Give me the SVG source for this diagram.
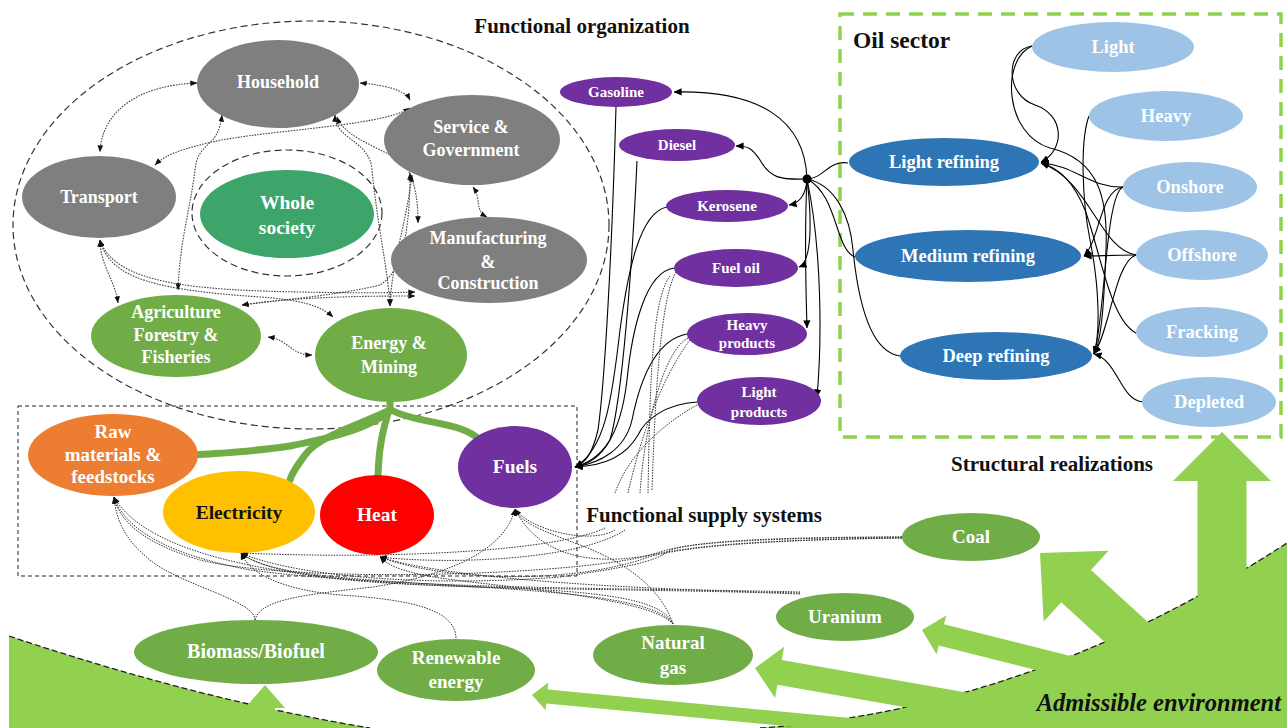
<svg xmlns="http://www.w3.org/2000/svg" width="1287" height="728" viewBox="0 0 1287 728">
<defs>
<marker id="ah" viewBox="0 0 10 10" refX="9.5" refY="5" markerWidth="8" markerHeight="8" markerUnits="userSpaceOnUse" orient="auto-start-reverse"><path d="M0,0.5 L10,5 L0,9.5 z" fill="#000"/></marker>
<marker id="ahs" viewBox="0 0 10 10" refX="9.5" refY="5" markerWidth="7" markerHeight="7" markerUnits="userSpaceOnUse" orient="auto-start-reverse"><path d="M0,1 L10,5 L0,9 z" fill="#111"/></marker>
</defs>
<style>
.t{font-family:"Liberation Serif","Times New Roman",serif;font-weight:bold;text-anchor:middle;fill:#fff}
.tb{font-family:"Liberation Serif","Times New Roman",serif;font-weight:bold;fill:#111}
.gray{fill:#7f7f7f}
.grn{fill:#70ad47}
.pur{fill:#7030a0}
.blu{fill:#2e75b6}
.lbl{fill:#9dc3e6}
.env{fill:#92d050}
.sol{fill:none;stroke:#000;stroke-width:1.1}
.dot{fill:none;stroke:#333;stroke-width:1;stroke-dasharray:1.5 1.2}
.org{fill:none;stroke:#444;stroke-width:1.1;stroke-dasharray:1.6 1.2}
.thick{fill:none;stroke:#70ad47;stroke-width:7;stroke-linecap:round}
</style>
<rect width="1287" height="728" fill="#fff"/>

<!-- Admissible environment -->
<g id="environment">
<path class="env" d="M9,636 Q200,700 370,728 L9,728 Z"/>
<path class="env" d="M760,728 Q1030,710 1287,543 L1287,728 Z"/>
<path d="M9,636 Q200,700 370,728" fill="none" stroke="#222" stroke-width="1.3" stroke-dasharray="6 3"/>
<path d="M760,728 Q1030,710 1287,543" fill="none" stroke="#222" stroke-width="1.3" stroke-dasharray="6 3"/>
<polygon class="env" transform="translate(1222,432) rotate(-90)" points="0,0 -49,-49 -49,-24.5 -320,-24.5 -320,24.5 -49,24.5 -49,49"/>
<polygon class="env" transform="translate(1040,553) rotate(-137.5)" points="0,0 -49,-48 -49,-22 -230,-22 -230,22 -49,22 -49,48"/>
<polygon class="env" transform="translate(922,630) rotate(-165.9)" points="0,0 -20,-20 -20,-11 -220,-11 -220,11 -20,11 -20,20"/>
<polygon class="env" transform="translate(755,668) rotate(-170)" points="0,0 -25,-26 -25,-12.5 -240,-12.5 -240,12.5 -25,12.5 -25,26"/>
<polygon class="env" transform="translate(532,695) rotate(-174.6)" points="0,0 -15,-14 -15,-7 -340,-7 -340,7 -15,7 -15,14"/>
<polygon class="env" transform="translate(265,685) rotate(-90)" points="0,0 -23,-20 -23,-10 -60,-10 -60,10 -23,10 -23,20"/>
<text x="1281" y="711" font-family="Liberation Serif, Times New Roman, serif" font-size="24.5" font-style="italic" font-weight="bold" text-anchor="end" fill="#111">Admissible environment</text>
</g>

<!-- boundaries -->
<g id="boundaries">
<ellipse cx="311" cy="225" rx="298" ry="204" fill="none" stroke="#333" stroke-width="1.2" stroke-dasharray="7 4"/>
<rect x="18" y="406" width="559" height="170" fill="none" stroke="#222" stroke-width="1" stroke-dasharray="4 3"/>
<rect x="840" y="14" width="441" height="423" fill="none" stroke="#92d050" stroke-width="3.5" stroke-dasharray="14 9"/>
<ellipse cx="287" cy="213" rx="95" ry="63" fill="none" stroke="#333" stroke-width="1.2" stroke-dasharray="7 4"/>
</g>

<g id="connectors">
<!-- organization links -->
<g marker-start="url(#ahs)" marker-end="url(#ahs)">
<path class="org" d="M197,83 C140,85 102,110 100,152"/>
<path class="org" d="M360,83 C385,85 405,90 410,100"/>
<path class="org" d="M410,108 C380,128 250,130 200,145 C180,150 165,155 155,165"/>
<path class="org" d="M222,115 C218,150 198,140 195,170 C190,210 180,240 178,290"/>
<path class="org" d="M335,115 C335,140 370,140 372,170 C378,230 388,270 390,306"/>
<path class="org" d="M337,117 C345,140 390,150 405,165 C415,180 418,200 418,223"/>
<path class="org" d="M410,173 C410,220 405,270 380,285 C340,295 280,300 242,305"/>
<path class="org" d="M412,175 C405,230 392,260 390,306"/>
<path class="org" d="M100,240 C100,265 115,280 118,303"/>
<path class="org" d="M100,240 C110,280 160,290 260,297 C300,300 320,305 333,317"/>
<path class="org" d="M100,240 C115,285 200,290 300,292 C350,293 390,293 415,292"/>
<path class="org" d="M242,305 C300,296 380,296 415,296"/>
<path class="org" d="M268,337 C290,340 290,355 312,355"/>
<path class="org" d="M473,187 C482,200 474,210 487,217"/>
</g>
<!-- energy & mining to supply systems -->
<path class="thick" d="M390,402 L390,410 C370,430 320,440 290,446 C250,452 220,453 196,455"/>
<path class="thick" d="M390,410 C360,425 320,435 305,455 C298,465 292,472 290,480"/>
<path class="thick" d="M389,410 C383,430 379,445 378,475"/>
<path class="thick" d="M391,410 C410,420 440,422 458,428 C470,432 476,436 480,440"/>
<!-- refining to products -->
<path class="sol" d="M848,163 C828,160 825,178 807,179"/>
<path class="sol" d="M855,257 C835,250 838,195 807,179"/>
<path class="sol" d="M900,356 C870,352 858,300 853,250 C850,215 835,185 807,179"/>
<g marker-end="url(#ah)">
<path class="sol" d="M807,179 C805,120 760,90 674,92"/>
<path class="sol" d="M807,179 C780,180 770,178 760,160 C752,148 748,146 736,146"/>
<path class="sol" d="M807,179 C806,195 800,203 789,205"/>
<path class="sol" d="M807,179 C812,220 812,262 799,267"/>
<path class="sol" d="M807,179 C804,240 806,290 807,328"/>
<path class="sol" d="M807,179 C822,250 822,340 817,397"/>
<!-- crude to refining -->
<path class="sol" d="M1032,46 C1005,50 1005,95 1035,105 C1065,115 1065,150 1041,162"/>
<path class="sol" d="M1032,46 C1000,60 1005,135 1050,148 C1100,160 1108,200 1106,250 C1104,300 1102,340 1094,354"/>
<path class="sol" d="M1089,116 C1080,140 1082,200 1090,240 C1100,290 1100,335 1094,354"/>
<path class="sol" d="M1123,187 C1090,188 1075,165 1041,163"/>
<path class="sol" d="M1123,187 C1100,190 1100,240 1084,256"/>
<path class="sol" d="M1123,187 C1105,195 1105,320 1094,354"/>
<path class="sol" d="M1136,255 C1110,255 1100,256 1084,256"/>
<path class="sol" d="M1136,255 C1100,250 1090,180 1041,163"/>
<path class="sol" d="M1136,255 C1115,262 1110,330 1094,354"/>
<path class="sol" d="M1136,333 C1110,320 1100,250 1085,210 C1075,185 1060,168 1041,163"/>
<path class="sol" d="M1143,402 C1120,400 1118,360 1094,354"/>
<!-- products to fuels -->
<path class="sol" d="M616,107 C612,250 605,380 598,430 C592,455 585,463 575,467"/>
<path class="sol" d="M637,161 C632,270 622,400 610,440 C600,458 588,464 575,467"/>
<path class="sol" d="M667,207 C640,212 628,270 620,330 C612,400 605,450 575,467"/>
<path class="sol" d="M674,268 C645,272 632,330 627,380 C620,440 600,460 575,467"/>
<path class="sol" d="M687,334 C655,340 640,380 632,420 C625,450 600,463 575,467"/>
<path class="sol" d="M697,402 C665,404 645,420 638,435 C625,458 600,466 575,467"/>
</g>
<circle cx="807" cy="179" r="4.5" fill="#000"/>
<!-- dotted product lines -->
<path class="dot" d="M670,276 C652,300 650,380 648,493"/>
<path class="dot" d="M676,272 C660,300 655,400 652,490"/>
<path class="dot" d="M688,338 C665,350 645,420 640,493"/>
<path class="dot" d="M697,405 C670,420 630,450 615,493"/>
<path class="dot" d="M690,340 C660,380 640,440 628,493"/>
<!-- resources to supply systems -->
<g marker-end="url(#ahs)">
<path class="dot" d="M615,530 C590,545 530,530 515,509"/>
<path class="dot" d="M625,530 C580,560 450,565 380,557"/>
<path class="dot" d="M605,528 C560,550 400,560 241,553"/>
<path class="dot" d="M255,620 C255,600 180,585 150,560 C125,540 116,520 114,497"/>
<path class="dot" d="M255,620 C260,600 300,595 373,587 C450,575 505,550 515,509"/>
<path class="dot" d="M456,638 C455,612 420,600 340,595 C285,590 250,575 241,553"/>
<path class="dot" d="M673,624 C660,592 560,590 450,586 C300,580 150,560 114,497"/>
<path class="dot" d="M673,624 C655,594 520,590 400,582 C320,577 260,570 241,553"/>
<path class="dot" d="M673,624 C650,597 500,587 440,578 C410,573 390,568 380,557"/>
<path class="dot" d="M673,624 C660,585 620,560 580,545 C540,530 520,522 515,509"/>
<path class="dot" d="M800,594 C700,590 560,590 450,586 C330,582 265,572 241,553"/>
<path class="dot" d="M800,592 C650,588 400,590 250,570 C170,555 125,530 114,497"/>
<path class="dot" d="M800,593 C650,590 450,580 380,557"/>
<path class="dot" d="M902,537 C800,538 700,540 670,550 C655,563 620,568 560,577 C420,588 290,575 241,553"/>
<path class="dot" d="M902,537 C760,537 690,542 660,552 C600,575 300,585 200,560 C150,545 120,525 114,497"/>
<path class="dot" d="M902,538 C750,540 670,548 640,560 C560,585 440,580 380,557"/>
<path class="dot" d="M902,538 C760,540 700,545 650,555 C600,565 540,560 515,509"/>
</g>
</g>

<!-- titles -->
<text class="tb" x="582" y="33" font-size="21" text-anchor="middle">Functional organization</text>
<text class="tb" x="853" y="48" font-size="23.5">Oil sector</text>
<text class="tb" x="1052" y="471" font-size="21" text-anchor="middle">Structural realizations</text>
<rect x="580" y="497" width="250" height="29" fill="#fff"/>
<text class="tb" x="704" y="522" font-size="21" text-anchor="middle">Functional supply systems</text>

<!-- functional organization nodes -->
<g id="household"><ellipse class="gray" cx="278" cy="84" rx="81" ry="44"/><text class="t" x="278" y="88" font-size="18">Household</text></g>
<g id="service"><ellipse class="gray" cx="472" cy="140" rx="88" ry="45"/><text class="t" x="471" y="133" font-size="18">Service &amp;</text><text class="t" x="471" y="156" font-size="18">Government</text></g>
<g id="transport"><ellipse class="gray" cx="99" cy="197" rx="77" ry="41"/><text class="t" x="99" y="203" font-size="18">Transport</text></g>
<g id="whole-society"><ellipse fill="#3da56a" cx="287" cy="214" rx="87" ry="44"/><text class="t" x="287" y="209" font-size="19.5">Whole</text><text class="t" x="287" y="234" font-size="19.5">society</text></g>
<g id="manufacturing"><ellipse class="gray" cx="489" cy="260" rx="98" ry="43"/><text class="t" x="488" y="244" font-size="18">Manufacturing</text><text class="t" x="488" y="268" font-size="18">&amp;</text><text class="t" x="488" y="289" font-size="18">Construction</text></g>
<g id="agriculture"><ellipse class="grn" cx="176" cy="336" rx="85" ry="41"/><text class="t" x="176" y="318" font-size="18">Agriculture</text><text class="t" x="176" y="341" font-size="18">Forestry &amp;</text><text class="t" x="176" y="363" font-size="18">Fisheries</text></g>
<g id="energy-mining"><ellipse class="grn" cx="391" cy="355" rx="76" ry="47"/><text class="t" x="389" y="349" font-size="18">Energy &amp;</text><text class="t" x="389" y="373" font-size="18">Mining</text></g>

<!-- oil products -->
<g id="gasoline"><ellipse class="pur" cx="616" cy="92" rx="56" ry="15"/><text class="t" x="616" y="97" font-size="15">Gasoline</text></g>
<g id="diesel"><ellipse class="pur" cx="677" cy="145" rx="58" ry="16"/><text class="t" x="677" y="150" font-size="15">Diesel</text></g>
<g id="kerosene"><ellipse class="pur" cx="727" cy="206" rx="61" ry="16"/><text class="t" x="727" y="211" font-size="15">Kerosene</text></g>
<g id="fuel-oil"><ellipse class="pur" cx="736" cy="268" rx="62" ry="19"/><text class="t" x="736" y="273" font-size="15">Fuel oil</text></g>
<g id="heavy-products"><ellipse class="pur" cx="747" cy="334" rx="60" ry="21"/><text class="t" x="747" y="330" font-size="15">Heavy</text><text class="t" x="747" y="348" font-size="15">products</text></g>
<g id="light-products"><ellipse class="pur" cx="759" cy="401" rx="62" ry="24"/><text class="t" x="759" y="397" font-size="15">Light</text><text class="t" x="759" y="417" font-size="15">products</text></g>

<!-- refining -->
<g id="light-refining"><ellipse class="blu" cx="944" cy="162" rx="95" ry="24"/><text class="t" x="944" y="168" font-size="18.5">Light refining</text></g>
<g id="medium-refining"><ellipse class="blu" cx="968" cy="256" rx="113" ry="26"/><text class="t" x="968" y="262" font-size="18.5">Medium refining</text></g>
<g id="deep-refining"><ellipse class="blu" cx="996" cy="356" rx="96" ry="24"/><text class="t" x="996" y="362" font-size="18.5">Deep refining</text></g>
<g id="light"><ellipse class="lbl" cx="1113" cy="47" rx="81" ry="25"/><text class="t" x="1113" y="53" font-size="18.5">Light</text></g>
<g id="heavy"><ellipse class="lbl" cx="1166" cy="116" rx="77" ry="25"/><text class="t" x="1166" y="122" font-size="18.5">Heavy</text></g>
<g id="onshore"><ellipse class="lbl" cx="1190" cy="187" rx="67" ry="25"/><text class="t" x="1190" y="193" font-size="18.5">Onshore</text></g>
<g id="offshore"><ellipse class="lbl" cx="1202" cy="255" rx="66" ry="25"/><text class="t" x="1202" y="261" font-size="18.5">Offshore</text></g>
<g id="fracking"><ellipse class="lbl" cx="1202" cy="332" rx="66" ry="25"/><text class="t" x="1202" y="338" font-size="18.5">Fracking</text></g>
<g id="depleted"><ellipse class="lbl" cx="1209" cy="402" rx="67" ry="25"/><text class="t" x="1209" y="408" font-size="18.5">Depleted</text></g>

<!-- supply systems -->
<g id="raw-materials"><ellipse fill="#ed7d31" cx="113" cy="455" rx="85" ry="41"/><text class="t" x="113" y="438" font-size="19">Raw</text><text class="t" x="113" y="461" font-size="19">materials &amp;</text><text class="t" x="113" y="483" font-size="19">feedstocks</text></g>
<g id="electricity"><ellipse fill="#ffc000" cx="239" cy="512" rx="76" ry="41"/><text class="t" x="239" y="519" font-size="19.5" style="fill:#111">Electricity</text></g>
<g id="heat"><ellipse fill="#ff0000" cx="377" cy="515" rx="57" ry="40"/><text class="t" x="377" y="521" font-size="19.5">Heat</text></g>
<g id="fuels"><ellipse class="pur" cx="515" cy="467" rx="57" ry="41"/><text class="t" x="515" y="473" font-size="19.5">Fuels</text></g>

<!-- resources -->
<g id="biomass"><ellipse class="grn" cx="256" cy="652" rx="122" ry="32"/><text class="t" x="256" y="658" font-size="20">Biomass/Biofuel</text></g>
<g id="renewable"><ellipse class="grn" cx="456" cy="670" rx="79" ry="31"/><text class="t" x="456" y="664" font-size="19">Renewable</text><text class="t" x="456" y="688" font-size="19">energy</text></g>
<g id="natural-gas"><ellipse class="grn" cx="673" cy="655" rx="80" ry="30"/><text class="t" x="673" y="649" font-size="19">Natural</text><text class="t" x="673" y="674" font-size="19">gas</text></g>
<g id="uranium"><ellipse class="grn" cx="845" cy="617" rx="69" ry="24"/><text class="t" x="845" y="623" font-size="19">Uranium</text></g>
<g id="coal"><ellipse class="grn" cx="971" cy="537" rx="69" ry="24"/><text class="t" x="971" y="543" font-size="19">Coal</text></g>
</svg>
